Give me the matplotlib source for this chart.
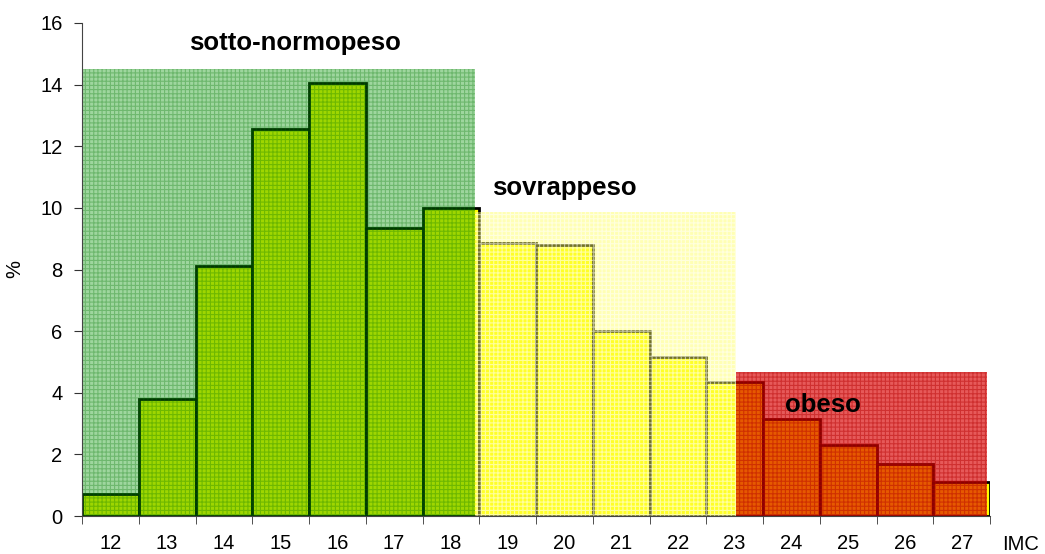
import matplotlib
matplotlib.use("Agg")
import matplotlib.pyplot as plt
from matplotlib.patches import Rectangle

plt.rcParams['font.family'] = ['Liberation Sans', 'DejaVu Sans']
plt.rcParams['hatch.linewidth'] = 0.8

imc = [12, 13, 14, 15, 16, 17, 18, 19, 20, 21, 22, 23, 24, 25, 26, 27]
percent = [0.7, 3.8, 8.1, 12.55, 14.05, 9.35, 10.0, 8.85, 8.8, 6.0, 5.15, 4.35, 3.15, 2.3, 1.7, 1.1]

# translucent group zones laid over the bars: (x start, x end, height)
zone_names = ['sotto-normopeso', 'sovrappeso', 'obeso']
zone_x0 = [11.5, 18.42, 23.02]
zone_x1 = [18.42, 23.02, 27.45]
zone_top = [14.5, 9.87, 4.67]
label_x = [15.25, 20.0, 24.55]
label_y = [15.35, 10.65, 3.6]

zone_face = [(0.0, 0.58, 0.0, 0.38), (1.0, 1.0, 0.35, 0.45), (0.85, 0.0, 0.0, 0.65)]
zone_hatch = [(0.0, 0.45, 0.0, 0.30), (1.0, 1.0, 1.0, 0.55), (0.70, 0.0, 0.0, 0.45)]

fig = plt.figure(figsize=(10.45, 5.54), dpi=100)
ax = fig.add_axes([82 / 1045, 1 - 516 / 554, (990 - 82) / 1045, (516 - 23) / 554])

ax.bar(imc, percent, width=1.0, color='#ffff00', edgecolor='black', linewidth=2.0, zorder=2)

for x0, x1, h, fc, hc in zip(zone_x0, zone_x1, zone_top, zone_face, zone_hatch):
    ax.add_patch(Rectangle((x0, 0), x1 - x0, h, facecolor=fc, edgecolor='none', linewidth=0, zorder=3))
    ax.add_patch(Rectangle((x0, 0), x1 - x0, h, facecolor='none', edgecolor=hc, linewidth=0,
                           hatch='++++', zorder=4))

for txt, x, y in zip(zone_names, label_x, label_y):
    ax.text(x, y, txt, ha='center', va='center', fontsize=18.5, fontweight='bold', zorder=6)

ax.set_xlim(11.5, 27.5)
ax.set_ylim(0, 16)
ax.set_yticks(range(0, 17, 2))
ax.set_xticks(imc)
ax.set_xticks([x + 0.5 for x in [11] + imc], minor=True)
ax.tick_params(axis='x', which='major', length=0, pad=13, labelsize=14.5)
ax.tick_params(axis='x', which='minor', length=6, color='#333333')
ax.tick_params(axis='y', length=6, pad=8, labelsize=14.5, color='#333333')
for s in ['top', 'right']:
    ax.spines[s].set_visible(False)
for s in ['left', 'bottom']:
    ax.spines[s].set_color('#444444')
    ax.spines[s].set_zorder(7)
ax.set_ylabel('%', fontsize=14.5)
ax.yaxis.set_label_coords((24 - 82) / 908, 0.5)
fig.text(1021 / 1045, 1 - 545 / 554, 'IMC', fontsize=14.5, ha='center', va='center')

fig.savefig('out.png', dpi=100)
